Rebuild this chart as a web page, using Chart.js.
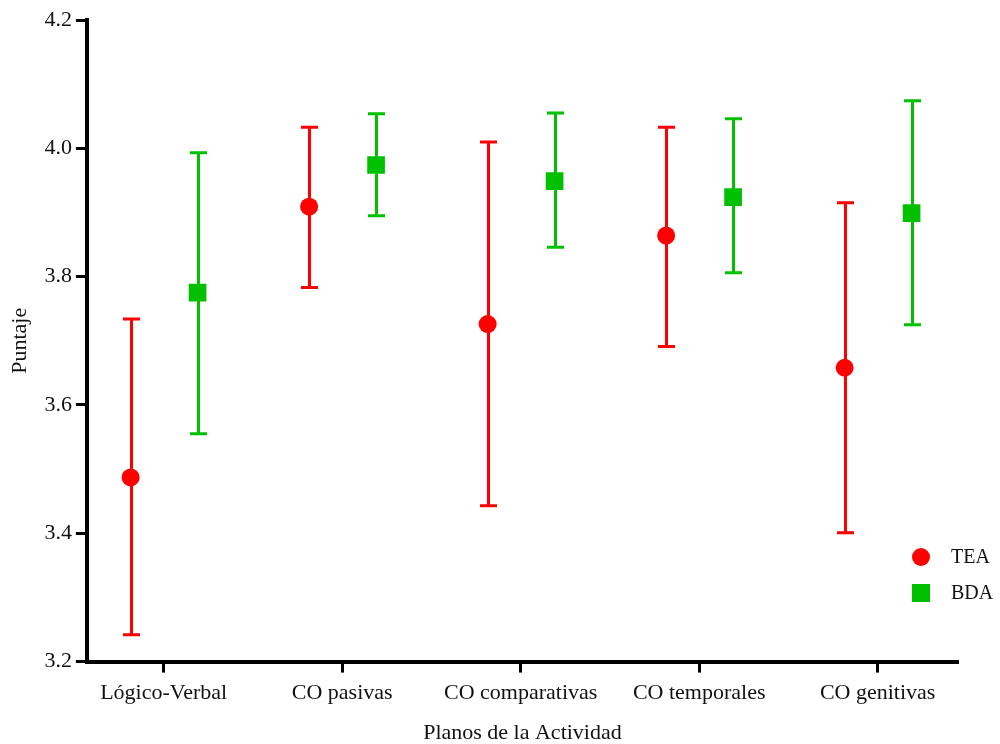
<!DOCTYPE html>
<html>
<head>
<meta charset="utf-8">
<script src="https://cdn.jsdelivr.net/npm/chart.js@4"></script>
<style>
  body { margin: 0; background: #fff; }
  #wrap { width: 1000px; height: 744px; }
</style>
</head>
<body>
<div id="wrap"><canvas id="myChart" width="1000" height="744"></canvas></div>
<script>
// categorias del eje x
const categorias = ['Lógico-Verbal', 'CO pasivas', 'CO comparativas', 'CO temporales', 'CO genitivas'];

// TEA: media, limite inferior, limite superior
const teaMedia = [3.487, 3.909, 3.726, 3.864, 3.658];
const teaInf = [3.242, 3.783, 3.443, 3.691, 3.401];
const teaSup = [3.734, 4.033, 4.010, 4.033, 3.915];

// BDA
const bdaMedia = [3.775, 3.974, 3.949, 3.924, 3.899];
const bdaInf = [3.555, 3.895, 3.846, 3.806, 3.725];
const bdaSup = [3.993, 4.054, 4.055, 4.046, 4.074];

const yTicks = [3.2, 3.4, 3.6, 3.8, 4.0, 4.2];

const ROJO = '#ff0000';
const VERDE = '#00c000';
const FUENTE = 'Liberation Serif';
const TAM = 22;

// desplazamiento de cada grupo dentro de la categoria
const desp = { TEA: -0.185, BDA: 0.19 };

function puntos(medias, d) {
  return medias.map((v, i) => ({ x: i + d, y: v }));
}

// barras de error con las escalas del grafico
const barrasError = {
  id: 'barrasError',
  beforeDatasetsDraw(chart) {
    const { ctx, scales } = chart;
    const grupos = [
      { d: desp.TEA, inf: teaInf, sup: teaSup, color: ROJO },
      { d: desp.BDA, inf: bdaInf, sup: bdaSup, color: VERDE }
    ];
    ctx.save();
    ctx.lineWidth = 3;
    grupos.forEach(g => {
      ctx.strokeStyle = g.color;
      g.inf.forEach((v, i) => {
        const x = Math.round(scales.x.getPixelForValue(i + g.d)) + 0.5;
        const y1 = scales.y.getPixelForValue(g.sup[i]);
        const y2 = scales.y.getPixelForValue(v);
        ctx.beginPath();
        ctx.moveTo(x, y1); ctx.lineTo(x, y2);
        ctx.moveTo(x - 8.5, y1); ctx.lineTo(x + 8.5, y1);
        ctx.moveTo(x - 8.5, y2); ctx.lineTo(x + 8.5, y2);
        ctx.stroke();
      });
    });
    ctx.restore();
  }
};

// leyenda abajo a la derecha
const leyenda = {
  id: 'leyenda',
  afterDraw(chart) {
    const { ctx } = chart;
    ctx.save();
    ctx.fillStyle = ROJO;
    ctx.beginPath();
    ctx.arc(921, 557, 9, 0, Math.PI * 2);
    ctx.fill();
    ctx.fillStyle = VERDE;
    ctx.fillRect(912, 584, 18, 18);
    ctx.fillStyle = '#111';
    ctx.font = '20px "' + FUENTE + '"';
    ctx.textBaseline = 'middle';
    ctx.fillText('TEA', 951, 558);
    ctx.fillText('BDA', 951, 594);
    ctx.restore();
  }
};

const data = {
  datasets: [
    {
      label: 'TEA',
      data: puntos(teaMedia, desp.TEA),
      backgroundColor: ROJO,
      borderColor: ROJO,
      pointStyle: 'circle',
      pointRadius: 9,
      pointHoverRadius: 9,
      borderWidth: 0
    },
    {
      label: 'BDA',
      data: puntos(bdaMedia, desp.BDA),
      backgroundColor: VERDE,
      borderColor: VERDE,
      pointStyle: 'rect',
      pointRadius: 12.5,
      pointHoverRadius: 12.5,
      borderWidth: 0
    }
  ]
};

const borde = { color: '#000', width: 4 };
const rejilla = { drawOnChartArea: false, drawTicks: true, tickLength: 11, tickWidth: 3, tickColor: '#000' };

const config = {
  type: 'scatter',
  data,
  options: {
    responsive: false,
    animation: false,
    layout: { padding: { top: 20, right: 42, left: 7, bottom: 0 } },
    plugins: { legend: { display: false }, tooltip: { enabled: false } },
    scales: {
      x: {
        type: 'linear',
        min: -0.43,
        max: 4.45,
        border: borde,
        grid: rejilla,
        afterBuildTicks: axis => { axis.ticks = categorias.map((c, i) => ({ value: i })); },
        ticks: {
          color: '#111',
          font: { family: FUENTE, size: TAM },
          padding: 7,
          maxRotation: 0,
          callback: v => categorias[v]
        },
        title: {
          display: true,
          text: 'Planos de la Actividad',
          color: '#111',
          font: { family: FUENTE, size: TAM, lineHeight: 1 },
          padding: { top: 9, bottom: 0 }
        }
      },
      y: {
        min: 3.2,
        max: 4.2,
        border: borde,
        grid: rejilla,
        afterBuildTicks: axis => { axis.ticks = yTicks.map(v => ({ value: v })); },
        ticks: {
          color: '#111',
          font: { family: FUENTE, size: TAM },
          padding: 4,
          callback: v => v.toFixed(1)
        },
        title: {
          display: true,
          text: 'Puntaje',
          color: '#111',
          font: { family: FUENTE, size: TAM },
          padding: { top: 0, bottom: 7 }
        }
      }
    }
  },
  plugins: [barrasError, leyenda]
};

var chart = document.querySelector('#myChart');
var myChart = new Chart(chart, config);
</script>
</body>
</html>
